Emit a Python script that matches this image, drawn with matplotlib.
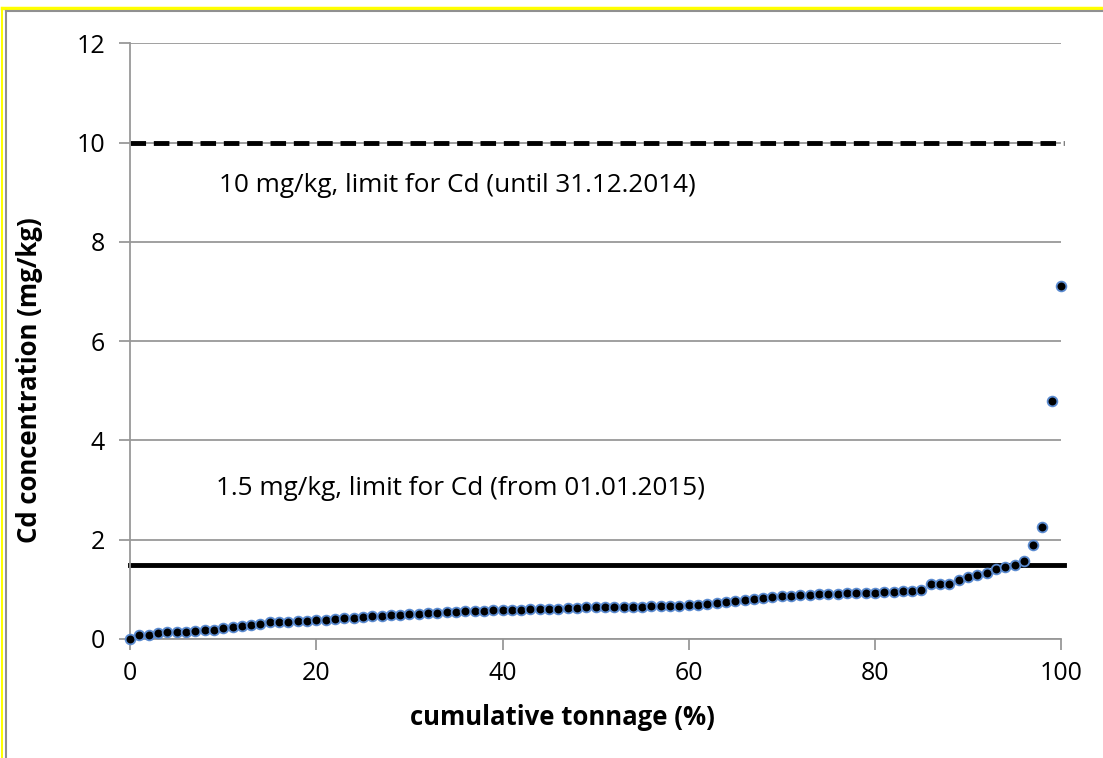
import matplotlib.pyplot as plt
from matplotlib.lines import Line2D
import numpy as np

plt.rcParams['font.family'] = ['Open Sans', 'DejaVu Sans']

# cumulative tonnage (%) and Cd concentration (mg/kg)
tonnage = np.arange(0, 101)
cd = [0.00, 0.08, 0.08, 0.13, 0.14, 0.14, 0.15, 0.16, 0.18, 0.19,
      0.22, 0.25, 0.27, 0.29, 0.31, 0.34, 0.35, 0.35, 0.36, 0.37,
      0.38, 0.39, 0.40, 0.42, 0.43, 0.45, 0.46, 0.47, 0.48, 0.49,
      0.50, 0.51, 0.52, 0.53, 0.54, 0.55, 0.56, 0.57, 0.57, 0.58,
      0.58, 0.59, 0.59, 0.60, 0.60, 0.61, 0.61, 0.62, 0.63, 0.64,
      0.64, 0.64, 0.64, 0.65, 0.65, 0.65, 0.66, 0.66, 0.67, 0.67,
      0.68, 0.69, 0.71, 0.73, 0.75, 0.77, 0.79, 0.81, 0.83, 0.85,
      0.86, 0.87, 0.88, 0.89, 0.90, 0.91, 0.91, 0.92, 0.92, 0.92,
      0.93, 0.94, 0.95, 0.96, 0.97, 0.99, 1.10, 1.10, 1.10, 1.18,
      1.24, 1.28, 1.32, 1.40, 1.44, 1.50, 1.58, 1.89, 2.25, 4.80,
      7.10]

limit_new = 1.5
limit_old = 10

fig = plt.figure(figsize=(11.03, 7.58), dpi=100)
ax = fig.add_axes([0.118, 0.157, 0.844, 0.786])

ax.set_xlim(0, 100)
ax.set_ylim(0, 12)
ax.set_xticks(range(0, 101, 20))
ax.set_yticks(range(0, 13, 2))
ax.grid(axis='y', color='#989898', linewidth=1.3)
ax.set_axisbelow(True)

ax.plot([0, 100.3], [limit_old, limit_old], color='k', linewidth=3.5,
        dashes=(3.2, 1.6), solid_capstyle='butt', clip_on=False)
ax.plot([0, 100.3], [limit_new, limit_new], color='k', linewidth=3.5, clip_on=False)

ax.plot(tonnage, cd, linestyle='none', marker='o', markersize=7,
        markerfacecolor='k', markeredgecolor='#5b8bd0', markeredgewidth=1.3,
        clip_on=False, zorder=5)

ax.text(9.5, 9.0, "10 mg/kg, limit for Cd (until 31.12.2014)", fontsize=18.8)
ax.text(9.2, 2.9, "1.5 mg/kg, limit for Cd (from 01.01.2015)", fontsize=18.8)

for s in ['top', 'right']:
    ax.spines[s].set_visible(False)
for s in ['left', 'bottom']:
    ax.spines[s].set_color('#989898')
    ax.spines[s].set_linewidth(1.3)
ax.tick_params(colors='#989898', labelcolor='k', labelsize=18, length=8, width=1.3)
ax.tick_params(axis='x', pad=8)
ax.tick_params(axis='y', pad=10)

fig.text(0.510, 0.054, "cumulative tonnage (%)", fontsize=18.5, fontweight='bold',
         ha='center', va='center')
fig.text(0.027, 0.499, "Cd concentration (mg/kg)", fontsize=18.5, fontweight='bold',
         ha='center', va='center', rotation=90)

# outer frame
fig.add_artist(Line2D([0.002, 1], [0.989, 0.989], color='#ffff00', linewidth=2.5))
fig.add_artist(Line2D([0.002, 0.002], [0, 0.989], color='#ffff00', linewidth=1.5))
fig.add_artist(Line2D([0.005, 1], [0.985, 0.985], color='#909090', linewidth=1.5))
fig.add_artist(Line2D([0.005, 0.005], [0, 0.985], color='#909090', linewidth=1.5))

fig.savefig("out.png", dpi=100)
